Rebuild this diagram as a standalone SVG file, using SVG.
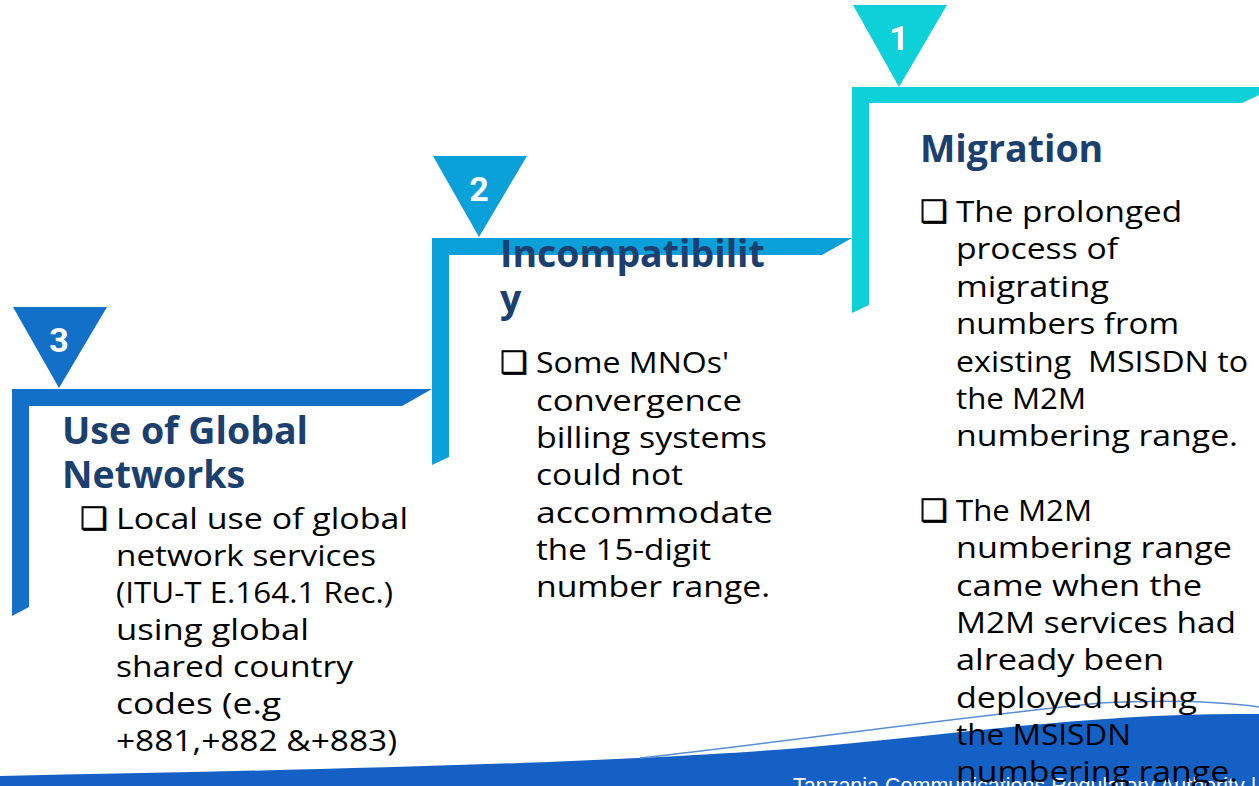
<svg xmlns="http://www.w3.org/2000/svg" width="1259" height="786" viewBox="0 0 1259 786">
<style>
.title{font-family:"Open Sans","Noto Sans",sans-serif;font-weight:700;font-size:37.5px;fill:#1B3F6E}
.body{font-family:"Open Sans","Noto Sans",sans-serif;font-size:30px;fill:#000}
.bul{font-family:"DejaVu Sans",sans-serif;font-weight:700;font-size:31px;fill:#000;stroke:#000;stroke-width:0.6}
.num{font-family:"Roboto","Liberation Sans",sans-serif;font-weight:700;font-size:34px;fill:#fff;text-anchor:middle}
.foot{font-family:"Liberation Sans",Arial,sans-serif;font-size:21.5px;fill:#fff}
</style>
<rect width="1259" height="786" fill="#fff"/>
<g id="footer-band">
<path d="M0,776 C300,770 600,764 800,748 C950,735 1100,712 1259,714 L1259,786 L0,786 Z" fill="#1560C4"/>
<path d="M640,758 C800,740 950,718 1100,703 C1180,699 1230,703 1259,707" fill="none" stroke="#5A8FD8" stroke-width="1.5"/>
<text class="foot" x="793" y="793">Tanzania Communications Regulatory Authority |</text>
</g>
<g id="step3">
<path d="M12,389 L432,389 L402,406 L29,406 L29,607 L12,616 Z" fill="#1270C8"/>
<path d="M13,307 L107,307 L59,388 Z" fill="#1270C8"/>
<text class="num" x="59" y="352">3</text>
<text class="title" x="62" y="444">Use of Global</text>
<text class="title" x="62" y="488">Networks</text>
<text class="bul" x="80" y="529">❑</text>
<text class="body" x="116" y="529" textLength="292" lengthAdjust="spacingAndGlyphs">Local use of global</text>
<text class="body" x="116" y="566" textLength="260" lengthAdjust="spacingAndGlyphs">network services</text>
<text class="body" x="116" y="603" textLength="277" lengthAdjust="spacingAndGlyphs">(ITU-T E.164.1 Rec.)</text>
<text class="body" x="116" y="640" textLength="193" lengthAdjust="spacingAndGlyphs">using global</text>
<text class="body" x="116" y="677" textLength="237" lengthAdjust="spacingAndGlyphs">shared country</text>
<text class="body" x="116" y="714" textLength="165" lengthAdjust="spacingAndGlyphs">codes (e.g</text>
<text class="body" x="116" y="751" textLength="281" lengthAdjust="spacingAndGlyphs">+881,+882 &amp;+883)</text>
</g>
<g id="step2">
<path d="M432,238 L852,238 L822,255 L449,255 L449,457 L432,465 Z" fill="#0AA0DA"/>
<path d="M433,156 L527,156 L479,237 Z" fill="#0AA0DA"/>
<text class="num" x="479" y="201">2</text>
<text class="title" x="500" y="267">Incompatibilit</text>
<text class="title" x="500" y="312">y</text>
<text class="bul" x="500" y="373">❑</text>
<text class="body" x="536" y="373" textLength="193" lengthAdjust="spacingAndGlyphs">Some MNOs'</text>
<text class="body" x="536" y="411" textLength="206" lengthAdjust="spacingAndGlyphs">convergence</text>
<text class="body" x="536" y="448" textLength="231" lengthAdjust="spacingAndGlyphs">billing systems</text>
<text class="body" x="536" y="485" textLength="147" lengthAdjust="spacingAndGlyphs">could not</text>
<text class="body" x="536" y="523" textLength="237" lengthAdjust="spacingAndGlyphs">accommodate</text>
<text class="body" x="536" y="560" textLength="175" lengthAdjust="spacingAndGlyphs">the 15-digit</text>
<text class="body" x="536" y="597" textLength="234" lengthAdjust="spacingAndGlyphs">number range.</text>
</g>
<g id="step1">
<path d="M852,87 L1276,87 L1242,103 L869,103 L869,305 L852,313 Z" fill="#0DD0D8"/>
<path d="M853,5 L947,5 L899,87 Z" fill="#0DD0D8"/>
<text class="num" x="899" y="50">1</text>
<text class="title" x="920" y="162">Migration</text>
<text class="bul" x="920" y="222">❑</text>
<text class="body" x="956" y="222" textLength="226" lengthAdjust="spacingAndGlyphs">The prolonged</text>
<text class="body" x="956" y="259" textLength="162" lengthAdjust="spacingAndGlyphs">process of</text>
<text class="body" x="956" y="297" textLength="153" lengthAdjust="spacingAndGlyphs">migrating</text>
<text class="body" x="956" y="334" textLength="223" lengthAdjust="spacingAndGlyphs">numbers from</text>
<text class="body" x="956" y="372" xml:space="preserve" textLength="292" lengthAdjust="spacingAndGlyphs">existing  MSISDN to</text>
<text class="body" x="956" y="409" textLength="130" lengthAdjust="spacingAndGlyphs">the M2M</text>
<text class="body" x="956" y="446" textLength="282" lengthAdjust="spacingAndGlyphs">numbering range.</text>
<text class="bul" x="920" y="521">❑</text>
<text class="body" x="956" y="521" textLength="136" lengthAdjust="spacingAndGlyphs">The M2M</text>
<text class="body" x="956" y="558" textLength="276" lengthAdjust="spacingAndGlyphs">numbering range</text>
<text class="body" x="956" y="596" textLength="246" lengthAdjust="spacingAndGlyphs">came when the</text>
<text class="body" x="956" y="633" textLength="280" lengthAdjust="spacingAndGlyphs">M2M services had</text>
<text class="body" x="956" y="670" textLength="208" lengthAdjust="spacingAndGlyphs">already been</text>
<text class="body" x="956" y="708" textLength="241" lengthAdjust="spacingAndGlyphs">deployed using</text>
<text class="body" x="956" y="745" textLength="175" lengthAdjust="spacingAndGlyphs">the MSISDN</text>
<text class="body" x="956" y="782" textLength="282" lengthAdjust="spacingAndGlyphs">numbering range.</text>
</g>
</svg>
